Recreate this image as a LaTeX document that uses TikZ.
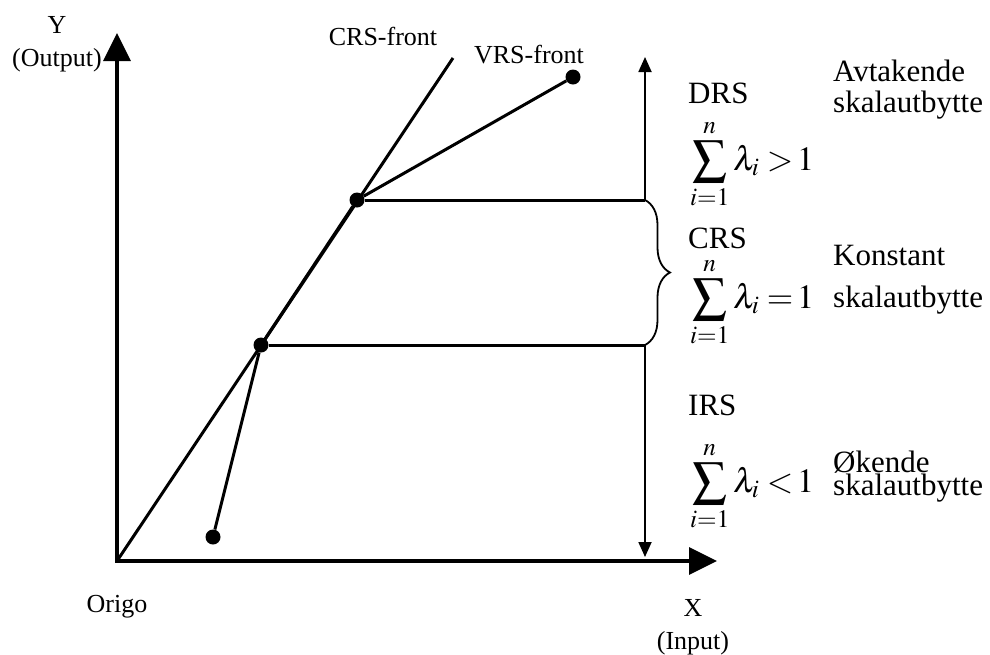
\documentclass[tikz,border=0pt]{standalone}
\usepackage{mathptmx}
\usepackage[no-math]{fontspec}
\setmainfont{Liberation Serif}
\usetikzlibrary{arrows.meta,decorations.pathreplacing}
\tikzset{
  dot/.style={circle,fill=black,inner sep=0pt,minimum size=15pt},
  ax/.style={line width=3.5pt,{Triangle[length=28pt,width=27pt]}-{Triangle[length=28pt,width=27pt]}},
  ln/.style={line width=3pt},
  ar/.style={line width=1.8pt,-{Triangle[length=15pt,width=13pt]}},
  lbl/.style={font=\fontsize{26}{33}\selectfont,inner sep=0pt},
  rt/.style={font=\fontsize{31}{31}\selectfont,inner sep=0pt,anchor=base west},
  fm/.style={rt,font=\fontsize{34}{36}\selectfont},
}
\begin{document}
\begin{tikzpicture}[x=1pt,y=-1pt]
\useasboundingbox (0,0) rectangle (990,654);
% axes
\coordinate (O) at (117,561);
\coordinate (xend) at (717,561);
\coordinate (yend) at (117,33);
\draw[ax] (yend) -- (O) -- (xend);

% fronts
\node[dot] (p1) at (213,537) {};
\node[dot] (p2) at (261,345) {};
\node[dot] (p3) at (357,200) {};
\node[dot] (p4) at (573,77) {};
\coordinate (crsend) at (453,58);
\draw[ln] (O) -- (crsend);
\draw[ln] (p1) -- (p2) -- (p3) -- (p4);

% levels, arrows and brace
\coordinate (b1) at (645,200);
\coordinate (b2) at (645,345);
\coordinate (atop) at (645,57);
\coordinate (abot) at (645,557);
\draw[ln] (p3) -- (b1);
\draw[ln] (p2) -- (b2);
\draw[ar] (b1) -- (atop);
\draw[ar] (b2) -- (abot);
\draw[line width=1.8pt,decorate,decoration={brace,amplitude=25pt}] (b1) -- (b2);

% axis labels
\node[lbl,anchor=base,align=center] (ylab) at (57,66) {Y\\(Output)};
\node[lbl,anchor=base,align=center] (xlab) at (693,649) {X\\(Input)};
\node[lbl,anchor=base] (origo) at (117,612) {Origo};
\node[lbl] (crslab) at (383,36) {CRS-front};
\node[lbl] (vrslab) at (529,55) {VRS-front};

% returns to scale
\node[rt] (drs) at (688,103) {DRS};
\node[fm] (drsf) at (690,170) {$\displaystyle\sum_{i=1}^{n}\lambda_i\;{>}\,1$};
\node[rt] (crs) at (688,248) {CRS};
\node[fm] (crsf) at (690,308) {$\displaystyle\sum_{i=1}^{n}\lambda_i\;{=}\,1$};
\node[rt] (irs) at (688,415) {IRS};
\node[fm] (irsf) at (690,492) {$\displaystyle\sum_{i=1}^{n}\lambda_i\;{<}\,1$};

\node[rt,align=left] (avt) at (833,112) {Avtakende\\skalautbytte};
\node[rt,align=left] (kon) at (833,307) {Konstant\\[11pt]skalautbytte};
\node[rt,align=left] (oke) at (833,495) {Økende\\[-8pt]skalautbytte};
\end{tikzpicture}
\end{document}
